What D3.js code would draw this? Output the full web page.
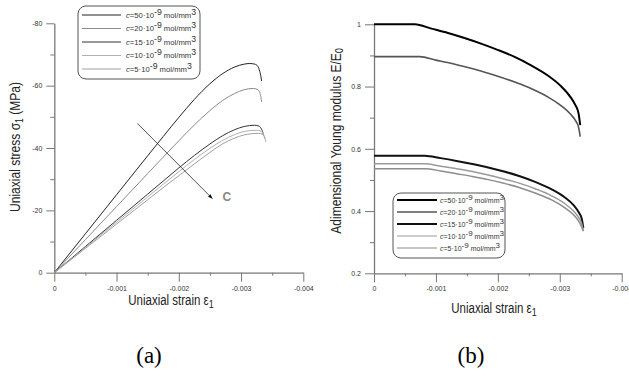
<!DOCTYPE html>
<html><head><meta charset="utf-8">
<script src="https://cdn.jsdelivr.net/npm/d3@7"></script>
<style>
body{margin:0;background:#fff;}
svg{display:block;font-family:Arial,"Liberation Sans",sans-serif;}
</style></head>
<body><svg id="c" width="629" height="376"></svg>
<script>
// ---------- DATA ----------
const concentrations = ["50","20","15","10","5"];
const strainTicks = [0,-0.001,-0.002,-0.003,-0.004];
const stressTicks = [0,-20,-40,-60,-80];
const modulusTicks = [0.2,0.4,0.6,0.8,1];

// (a) stress-strain curves [strain, stress MPa]
const stressC50 = [[0,0],[-0.0005,-12.5],[-0.001,-25],[-0.0015,-37.5],[-0.00175,-43.7],[-0.002,-49.8],[-0.00225,-55.6],[-0.0025,-60.6],[-0.0027,-63.8],[-0.0029,-66.0],[-0.00305,-66.9],[-0.00314,-67.1],[-0.00322,-66.9],[-0.00327,-66.2],[-0.0033,-64.6],[-0.00332,-62.8],[-0.00333,-61.5]];
const stressC20 = [[0,0],[-0.0005,-10.6],[-0.001,-21.2],[-0.0015,-31.8],[-0.00175,-37.1],[-0.002,-42.3],[-0.00225,-47.4],[-0.0025,-52.0],[-0.0027,-55.2],[-0.0029,-57.5],[-0.00305,-58.7],[-0.0032,-59.1],[-0.00327,-58.7],[-0.0033,-57.8],[-0.00332,-56.2],[-0.00333,-54.8]];
const stressC15 = [[0,0],[-0.0005,-8.4],[-0.001,-16.8],[-0.0015,-25.2],[-0.00175,-29.4],[-0.002,-33.6],[-0.00225,-37.6],[-0.0025,-41.3],[-0.0027,-43.9],[-0.0029,-45.9],[-0.00305,-46.9],[-0.00322,-47.3],[-0.00329,-47.0],[-0.00333,-46.0],[-0.00335,-45.0],[-0.00336,-44.1]];
const stressC10 = [[0,0],[-0.0005,-8.1],[-0.001,-16.2],[-0.0015,-24.3],[-0.00175,-28.4],[-0.002,-32.4],[-0.00225,-36.3],[-0.0025,-39.9],[-0.0027,-42.4],[-0.0029,-44.3],[-0.00305,-45.3],[-0.00325,-45.7],[-0.00332,-45.4],[-0.00336,-44.4],[-0.00338,-43.0]];
const stressC5  = [[0,0],[-0.0005,-7.8],[-0.001,-15.6],[-0.0015,-23.4],[-0.00175,-27.3],[-0.002,-31.1],[-0.00225,-34.9],[-0.0025,-38.6],[-0.0027,-41.3],[-0.0029,-43.2],[-0.00305,-44.2],[-0.00328,-44.7],[-0.00335,-44.4],[-0.00338,-43.4],[-0.0034,-42.0]];

// (b) adimensional Young modulus [strain, E/E0]
const modC50 = [[0,1],[-0.00066,1],[-0.000927,0.986],[-0.001194,0.972],[-0.001461,0.956],[-0.001728,0.938],[-0.001995,0.918],[-0.002262,0.896],[-0.002529,0.869],[-0.002796,0.837],[-0.00301,0.803],[-0.00317,0.767],[-0.00325,0.741],[-0.003303,0.714],[-0.00333,0.676]];
const modC20 = [[0,0.896],[-0.00074,0.896],[-0.000999,0.885],[-0.001258,0.874],[-0.001517,0.861],[-0.001776,0.847],[-0.002035,0.831],[-0.002294,0.813],[-0.002553,0.792],[-0.002812,0.766],[-0.003019,0.739],[-0.003175,0.711],[-0.003252,0.691],[-0.003304,0.669],[-0.00333,0.639]];
const modC15 = [[0,0.578],[-0.00082,0.578],[-0.001076,0.570],[-0.001332,0.561],[-0.001588,0.551],[-0.001844,0.540],[-0.0021,0.527],[-0.002356,0.512],[-0.002612,0.493],[-0.002868,0.470],[-0.003073,0.445],[-0.003226,0.418],[-0.003303,0.397],[-0.003354,0.376],[-0.00338,0.345]];
const modC10 = [[0,0.552],[-0.00082,0.552],[-0.001076,0.544],[-0.001332,0.536],[-0.001588,0.527],[-0.001844,0.516],[-0.0021,0.503],[-0.002356,0.489],[-0.002612,0.471],[-0.002868,0.449],[-0.003073,0.425],[-0.003226,0.399],[-0.003303,0.380],[-0.003354,0.359],[-0.00338,0.338]];
const modC5  = [[0,0.536],[-0.00082,0.536],[-0.001076,0.529],[-0.001332,0.520],[-0.001588,0.511],[-0.001844,0.501],[-0.0021,0.489],[-0.002356,0.475],[-0.002612,0.457],[-0.002868,0.436],[-0.003073,0.412],[-0.003226,0.387],[-0.003303,0.368],[-0.003354,0.349],[-0.00338,0.335]];

// annotation arrow in (a) [strain, stress]
const arrowFrom = [-0.001333,-47.9];
const arrowTo = [-0.002538,-23.8];
const arrowLabel = [-0.00277,-24.2];

// ---------- DRAW ----------
const svg = d3.select("#c");
const fmtTick = d => d===0 ? "0" : String(d).replace("\u2212","-");

function styleAxis(g){
  g.select(".domain").attr("stroke","#777").attr("stroke-width",1.3);
  g.selectAll(".tick line").attr("stroke","#777").attr("stroke-width",1);
  g.selectAll(".tick text").attr("fill","#333").style("font-size","7px");
}

function panel(o){
  const x = d3.scaleLinear().domain([0,-0.004]).range(o.xr);
  const y = d3.scaleLinear().domain(o.yd).range(o.yr);
  const g = svg.append("g");
  const xm = d3.range(1,8,2).map(i=>-0.0005*i);
  g.append("g").attr("transform",`translate(0,${o.yr[0]})`)
    .call(d3.axisBottom(x).tickValues(xm).tickSize(3).tickFormat(""))
    .call(s=>{s.select(".domain").remove(); s.selectAll(".tick line").attr("stroke","#777");});
  g.append("g").attr("transform",`translate(${o.xr[0]},0)`)
    .call(d3.axisLeft(y).tickValues(o.yMinor).tickSize(4).tickFormat(""))
    .call(s=>{s.select(".domain").remove(); s.selectAll(".tick line").attr("stroke","#777");});
  g.append("g").attr("transform",`translate(0,${o.yr[0]})`)
    .call(d3.axisBottom(x).tickValues(strainTicks).tickSize(9).tickSizeOuter(0).tickPadding(4).tickFormat(fmtTick))
    .call(styleAxis);
  g.append("g").attr("transform",`translate(${o.xr[0]},0)`)
    .call(d3.axisLeft(y).tickValues(o.yTicks).tickSize(o.yTickSize).tickSizeOuter(0).tickPadding(4).tickFormat(fmtTick))
    .call(styleAxis);
  const line = d3.line().x(d=>x(d[0])).y(d=>y(d[1])).curve(d3.curveMonotoneX);
  o.series.forEach((s,i)=>{
    g.append("path").datum(s).attr("d",line).attr("fill","none")
      .attr("stroke",o.colors[i]).attr("stroke-width",o.widths[i]).attr("stroke-linejoin","round");
  });
  return {x,y,g};
}

const A = panel({
  xr:[54.3,303.3], yd:[0,-80], yr:[272.7,23.3],
  yTicks:stressTicks, yMinor:[-10,-30,-50,-70], yTickSize:8,
  series:[stressC50,stressC20,stressC15,stressC10,stressC5],
  colors:["#222","#8a8a8a","#333","#b0b0b0","#a0a0a0"],
  widths:[1,1,1,1,1]
});
const B = panel({
  xr:[374,621.7], yd:[0.2,1], yr:[273.3,24.3],
  yTicks:modulusTicks, yMinor:[0.3,0.5,0.7,0.9], yTickSize:9,
  series:[modC50,modC20,modC15,modC10,modC5],
  colors:["#000","#555","#111","#999","#8c8c8c"],
  widths:[2,1.6,2,1.5,1.5]
});

// arrow annotation
svg.append("defs").append("marker").attr("id","ah").attr("viewBox","0 0 10 10")
  .attr("refX",9).attr("refY",5).attr("markerWidth",6).attr("markerHeight",6).attr("orient","auto")
  .append("path").attr("d","M0,1.5 L10,5 L0,8.5 Z").attr("fill","#000");
A.g.append("line").attr("x1",A.x(arrowFrom[0])).attr("y1",A.y(arrowFrom[1]))
  .attr("x2",A.x(arrowTo[0])).attr("y2",A.y(arrowTo[1]))
  .attr("stroke","#222").attr("stroke-width",0.8).attr("marker-end","url(#ah)");
A.g.append("text").attr("x",A.x(arrowLabel[0])).attr("y",A.y(arrowLabel[1])).attr("dy","0.35em")
  .attr("text-anchor","middle").attr("fill","#888").style("font-weight","bold").style("font-size","12px").text("C");

// legends
function legend(o){
  const g = svg.append("g");
  g.append("rect").attr("x",o.x).attr("y",o.y).attr("width",o.w).attr("height",o.h)
    .attr("rx",8).attr("fill","#fff").attr("stroke","#555").attr("stroke-width",1);
  concentrations.forEach((c,i)=>{
    const yy = o.y0 + i*o.dy;
    g.append("line").attr("x1",o.lx1).attr("x2",o.lx2).attr("y1",yy).attr("y2",yy)
      .attr("stroke",o.colors[i]).attr("stroke-width",o.widths[i]);
    const t = g.append("text").attr("x",o.tx).attr("y",yy+2.5).attr("fill","#333").style("font-size",o.fs+"px");
    t.append("tspan").style("font-style","italic").text("c");
    t.append("tspan").text("="+c+"\u00B710");
    t.append("tspan").attr("dy",-3).style("font-size",(o.fs+1)+"px").text("-9");
    t.append("tspan").attr("dy",3).text(" mol/mm");
    t.append("tspan").attr("dy",-3).style("font-size",(o.fs+1)+"px").text("3");
  });
}
legend({x:78,y:6,w:122,h:73,y0:15,dy:13.5,lx1:82,lx2:121,tx:126,fs:7.7,
  colors:["#222","#8a8a8a","#333","#b0b0b0","#a0a0a0"],widths:[1,1,1,1,1]});
legend({x:393,y:193,w:112,h:65,y0:200,dy:12,lx1:397,lx2:437,tx:440,fs:7,
  colors:["#000","#555","#111","#999","#8c8c8c"],widths:[2,1.6,2,1.2,1.2]});

// axis titles (slightly condensed like the reference)
function xTitle(cx,y){
  const g = svg.append("g").attr("transform",`translate(${cx},${y}) scale(0.82,1)`);
  const t = g.append("text").attr("x",0).attr("y",0).attr("text-anchor","middle")
    .attr("fill","#222").style("font-size","14px");
  t.append("tspan").text("Uniaxial strain \u03B5");
  t.append("tspan").attr("dy",3).style("font-size","11px").text("1");
}
xTitle(171,305);
xTitle(494,313);

const g1 = svg.append("g").attr("transform","translate(20,147) rotate(-90) scale(0.86,1)");
const yt1 = g1.append("text").attr("text-anchor","middle").attr("fill","#222").style("font-size","14px");
yt1.append("tspan").text("Uniaxial stress \u03C3");
yt1.append("tspan").attr("dy",3).style("font-size","10px").text("1");
yt1.append("tspan").attr("dy",-3).text(" (MPa)");

const g2 = svg.append("g").attr("transform","translate(341,141) rotate(-90) scale(0.86,1)");
const yt2 = g2.append("text").attr("text-anchor","middle").attr("fill","#222").style("font-size","14px");
yt2.append("tspan").text("Adimensional Young modulus E/E");
yt2.append("tspan").attr("dy",2).style("font-size","10px").text("0");

// panel labels
svg.append("text").attr("x",149).attr("y",363).attr("text-anchor","middle")
  .style("font-family","'Liberation Serif','Times New Roman',serif").style("font-size","23px").attr("fill","#000").text("(a)");
svg.append("text").attr("x",471).attr("y",363).attr("text-anchor","middle")
  .style("font-family","'Liberation Serif','Times New Roman',serif").style("font-size","23px").attr("fill","#000").text("(b)");
</script></body></html>
